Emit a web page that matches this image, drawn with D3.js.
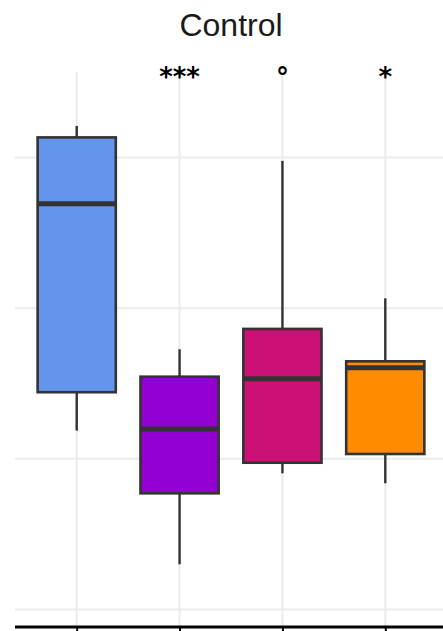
<!DOCTYPE html>
<html>
<head>
<meta charset="utf-8">
<script src="https://cdn.jsdelivr.net/npm/d3@7"></script>
<style>
  html, body { margin: 0; padding: 0; background: #fff; }
  svg { display: block; }
</style>
</head>
<body>
<svg id="chart" width="443" height="631"></svg>
<script>
// Groups along the x axis
const groups = ["G1", "G2", "G3", "G4"];
// Five-number summaries per group: lower whisker, Q1, median, Q3, upper whisker
const lowerWhisker = [1.187, 0.300, 0.904, 0.838];
const q1Values     = [1.442, 0.771, 0.974, 1.032];
const medians      = [2.693, 1.198, 1.532, 1.605];
const q3Values     = [3.133, 1.545, 1.862, 1.647];
const upperWhisker = [3.209, 1.727, 2.977, 2.065];
// Significance markers above each group
const sigLabels = ["", "***", "°", "*"];
const fillColors = ["#6495ED", "#9400D3", "#CD1076", "#FF8C00"];
// Horizontal grid values (the y axis carries no labels)
const yTicks = [0, 1, 2, 3];
const titleText = "Control";

const data = groups.map((g, i) => ({
  group: g, lo: lowerWhisker[i], q1: q1Values[i], med: medians[i],
  q3: q3Values[i], hi: upperWhisker[i], sig: sigLabels[i], fill: fillColors[i]
}));

const svg = d3.select("#chart");
const panel = { left: 15, right: 447, top: 72, bottom: 626 };

const x = d3.scalePoint().domain(groups).range([panel.left, panel.right]).padding(0.6);
const y = d3.scaleLinear().domain([-0.1095, 3.567]).range([panel.bottom, panel.top]);
const boxW = x.step() * 0.76;

const grid = svg.append("g");
grid.selectAll("line.h").data(yTicks).join("line")
  .attr("x1", panel.left).attr("x2", panel.right)
  .attr("y1", d => y(d)).attr("y2", d => y(d))
  .attr("stroke", "#ebebeb").attr("stroke-width", 2);
grid.selectAll("line.v").data(groups).join("line")
  .attr("x1", d => x(d)).attr("x2", d => x(d))
  .attr("y1", panel.top).attr("y2", panel.bottom)
  .attr("stroke", "#ebebeb").attr("stroke-width", 2);

// Bottom axis with ticks and no labels
const xAxis = d3.axisBottom(x).tickSize(6).tickFormat("");
const axisG = svg.append("g").attr("transform", `translate(0,${panel.bottom + 1})`).call(xAxis);
axisG.select(".domain").attr("d", `M${panel.left},0H${panel.right}`)
  .attr("stroke", "#000").attr("stroke-width", 3);
axisG.selectAll(".tick line").attr("stroke", "#000").attr("stroke-width", 2);

const outline = "#333333";
const boxes = svg.append("g").selectAll("g").data(data).join("g");

boxes.append("line")
  .attr("x1", d => x(d.group)).attr("x2", d => x(d.group))
  .attr("y1", d => y(d.hi)).attr("y2", d => y(d.q3))
  .attr("stroke", outline).attr("stroke-width", 2.4);
boxes.append("line")
  .attr("x1", d => x(d.group)).attr("x2", d => x(d.group))
  .attr("y1", d => y(d.q1)).attr("y2", d => y(d.lo))
  .attr("stroke", outline).attr("stroke-width", 2.4);
boxes.append("rect")
  .attr("x", d => x(d.group) - boxW / 2).attr("width", boxW)
  .attr("y", d => y(d.q3)).attr("height", d => y(d.q1) - y(d.q3))
  .attr("fill", d => d.fill).attr("stroke", outline).attr("stroke-width", 2.6);
boxes.append("line")
  .attr("x1", d => x(d.group) - boxW / 2).attr("x2", d => x(d.group) + boxW / 2)
  .attr("y1", d => y(d.med)).attr("y2", d => y(d.med))
  .attr("stroke", outline).attr("stroke-width", 5);

svg.append("g").selectAll("text").data(data).join("text")
  .attr("x", d => x(d.group)).attr("y", 86)
  .attr("text-anchor", "middle")
  .attr("font-family", "DejaVu Sans, sans-serif").attr("font-size", 26)
  .attr("font-weight", "bold")
  .attr("fill", "#000")
  .text(d => d.sig);

svg.append("text")
  .attr("x", (panel.left + panel.right) / 2).attr("y", 36)
  .attr("text-anchor", "middle")
  .attr("font-family", "Liberation Sans, Arial, sans-serif").attr("font-size", 32)
  .attr("fill", "#1a1a1a")
  .text(titleText);
</script>
</body>
</html>
